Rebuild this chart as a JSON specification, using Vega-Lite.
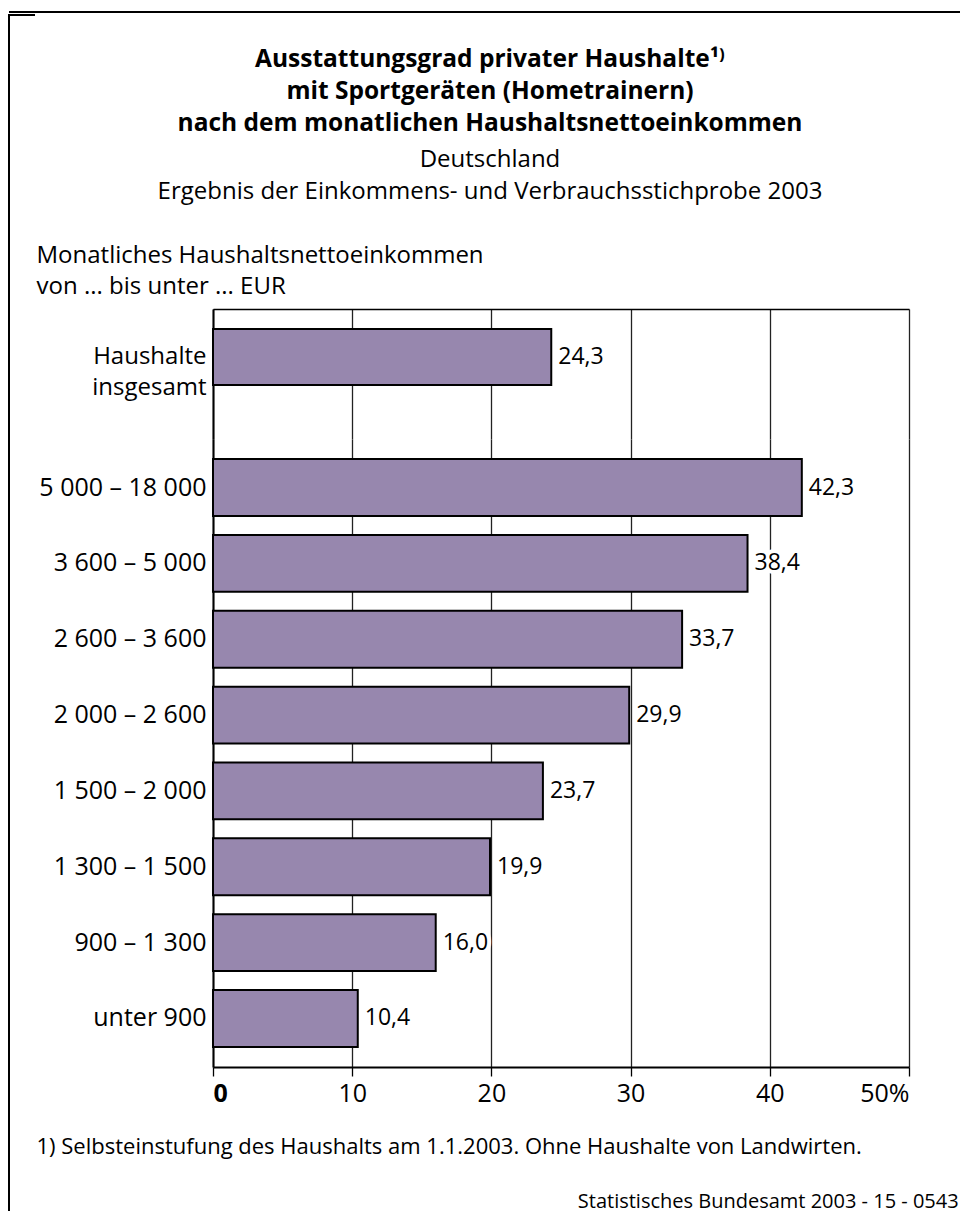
{
  "$schema": "https://vega.github.io/schema/vega-lite/v6.json",
  "background": "white",
  "padding": {"left": 8, "top": 11, "right": 0, "bottom": 0},
  "config": {
    "font": "Open Sans",
    "locale": {"number": {"decimal": ",", "thousands": " ", "grouping": [3], "currency": ["", " €"]}},
    "view": {"stroke": null},
    "axis": {
      "labelFont": "Open Sans",
      "titleFont": "Open Sans",
      "labelColor": "black",
      "titleColor": "black",
      "labelFontSize": 25,
      "titleFontWeight": "normal",
      "gridColor": "#222222",
      "gridWidth": 1.3,
      "gridOpacity": 1,
      "domainColor": "black",
      "tickColor": "black"
    }
  },
  "datasets": {
    "leer": [{}],
    "gesamt": [
      {"Einkommen": "Haushalte insgesamt", "Anteil": 24.3}
    ],
    "klassen": [
      {"Einkommen": "5 000 – 18 000", "Anteil": 42.3},
      {"Einkommen": "3 600 – 5 000", "Anteil": 38.4},
      {"Einkommen": "2 600 – 3 600", "Anteil": 33.7},
      {"Einkommen": "2 000 – 2 600", "Anteil": 29.9},
      {"Einkommen": "1 500 – 2 000", "Anteil": 23.7},
      {"Einkommen": "1 300 – 1 500", "Anteil": 19.9},
      {"Einkommen": "900 – 1 300", "Anteil": 16.0},
      {"Einkommen": "unter 900", "Anteil": 10.4}
    ]
  },
  "spacing": 0,
  "vconcat": [
    {
      "data": {"name": "leer"},
      "width": 952,
      "height": 1,
      "view": {"stroke": "black", "strokeWidth": 2, "strokeDash": [952, 3000]},
      "mark": {"type": "point", "size": 0, "opacity": 0}
    },
    {
      "spacing": 0,
      "hconcat": [
        {
          "data": {"name": "leer"},
          "width": 26,
          "height": 1210,
          "view": {"stroke": "black", "strokeWidth": 2, "strokeDash": [26, 1236, 1210, 4]},
          "mark": {"type": "point", "size": 0, "opacity": 0}
        },
        {
          "spacing": 0,
          "vconcat": [
            {
              "data": {"name": "leer"},
              "width": 1,
              "height": 31,
              "mark": {"type": "point", "size": 0, "opacity": 0}
            },
            {
              "data": {"name": "gesamt"},
              "width": 696,
              "height": 130,
              "title": {
                "text": ["Ausstattungsgrad privater Haushalte¹⁾", "mit Sportgeräten (Hometrainern)", "nach dem monatlichen Haushaltsnettoeinkommen"],
                "subtitle": ["Deutschland", "Ergebnis der Einkommens- und Verbrauchsstichprobe 2003"],
                "font": "Open Sans",
                "subtitleFont": "Open Sans",
                "fontSize": 24.5,
                "fontWeight": "bold",
                "lineHeight": 32,
                "subtitleFontSize": 24,
                "subtitleLineHeight": 32,
                "subtitlePadding": 12,
                "color": "black",
                "subtitleColor": "black",
                "anchor": "middle",
                "frame": "group",
                "dx": -71,
                "offset": 38
              },
              "encoding": {
                "y": {
                  "field": "Einkommen",
                  "type": "nominal",
                  "sort": null,
                  "scale": {"paddingInner": 0.25, "paddingOuter": 0.4955, "align": 0.27},
                  "axis": {
                    "title": ["Monatliches Haushaltsnettoeinkommen", "von ... bis unter ... EUR"],
                    "titleFontSize": 24,
                    "titleAngle": 0,
                    "titleAlign": "left",
                    "titleBaseline": "top",
                    "titleLineHeight": 31,
                    "titleX": -177,
                    "titleY": -66,
                    "ticks": false,
                    "domainWidth": 2,
                    "labelPadding": 7,
                    "labelFontSize": 24,
                    "labelLineHeight": 31,
                    "labelExpr": "datum.value == 'Haushalte insgesamt' ? ['Haushalte', 'insgesamt'] : datum.label"
                  }
                },
                "x": {
                  "field": "Anteil",
                  "type": "quantitative",
                  "scale": {"domain": [0, 50], "nice": false},
                  "axis": {
                    "orient": "top",
                    "values": [0, 10, 20, 30, 40, 50],
                    "labels": false,
                    "ticks": false,
                    "domain": true,
                    "domainWidth": 1.3,
                    "grid": true,
                    "title": null
                  }
                }
              },
              "layer": [
                {"mark": {"type": "bar", "fill": "#9787ae", "stroke": "black", "strokeWidth": 2}},
                {
                  "mark": {"type": "text", "align": "left", "baseline": "middle", "dx": 7, "fontSize": 23, "fill": "white", "stroke": "white", "strokeWidth": 8, "strokeJoin": "round"},
                  "encoding": {"text": {"field": "Anteil", "type": "quantitative", "format": ".1f"}}
                },
                {
                  "mark": {"type": "text", "align": "left", "baseline": "middle", "dx": 7, "fontSize": 23, "fill": "black"},
                  "encoding": {"text": {"field": "Anteil", "type": "quantitative", "format": ".1f"}}
                }
              ]
            },
            {
              "data": {"name": "klassen"},
              "width": 696,
              "height": 628,
              "title": {
                "text": "Statistisches Bundesamt 2003 - 15 - 0543",
                "orient": "bottom",
                "anchor": "end",
                "fontSize": 20,
                "fontWeight": "normal",
                "color": "black",
                "dx": 49,
                "offset": 35
              },
              "encoding": {
                "y": {
                  "field": "Einkommen",
                  "type": "nominal",
                  "sort": null,
                  "scale": {"paddingInner": 0.25, "paddingOuter": 0.265},
                  "axis": {
                    "title": null,
                    "ticks": false,
                    "domainWidth": 2,
                    "labelPadding": 7
                  }
                },
                "x": {
                  "field": "Anteil",
                  "type": "quantitative",
                  "scale": {"domain": [0, 50], "nice": false},
                  "axis": {
                    "orient": "bottom",
                    "values": [0, 10, 20, 30, 40, 50],
                    "grid": true,
                    "ticks": true,
                    "tickSize": 9,
                    "tickWidth": 1.3,
                    "domainWidth": 2,
                    "labelPadding": 5,
                    "labelFontSize": 25,
                    "labelFontWeight": {"condition": {"test": "datum.value == 0", "value": "bold"}, "value": "normal"},
                    "labelExpr": "datum.value == 50 ? '50%' : datum.label",
                    "title": "1) Selbsteinstufung des Haushalts am 1.1.2003. Ohne Haushalte von Landwirten.",
                    "titleFontSize": 22,
                    "titleAlign": "left",
                    "titleBaseline": "alphabetic",
                    "titleX": -177,
                    "titleY": 86
                  }
                }
              },
              "layer": [
                {"mark": {"type": "bar", "fill": "#9787ae", "stroke": "black", "strokeWidth": 2}},
                {
                  "mark": {"type": "text", "align": "left", "baseline": "middle", "dx": 7, "fontSize": 23, "fill": "white", "stroke": "white", "strokeWidth": 8, "strokeJoin": "round"},
                  "encoding": {"text": {"field": "Anteil", "type": "quantitative", "format": ".1f"}}
                },
                {
                  "mark": {"type": "text", "align": "left", "baseline": "middle", "dx": 7, "fontSize": 23, "fill": "black"},
                  "encoding": {"text": {"field": "Anteil", "type": "quantitative", "format": ".1f"}}
                }
              ]
            }
          ]
        }
      ]
    }
  ]
}
